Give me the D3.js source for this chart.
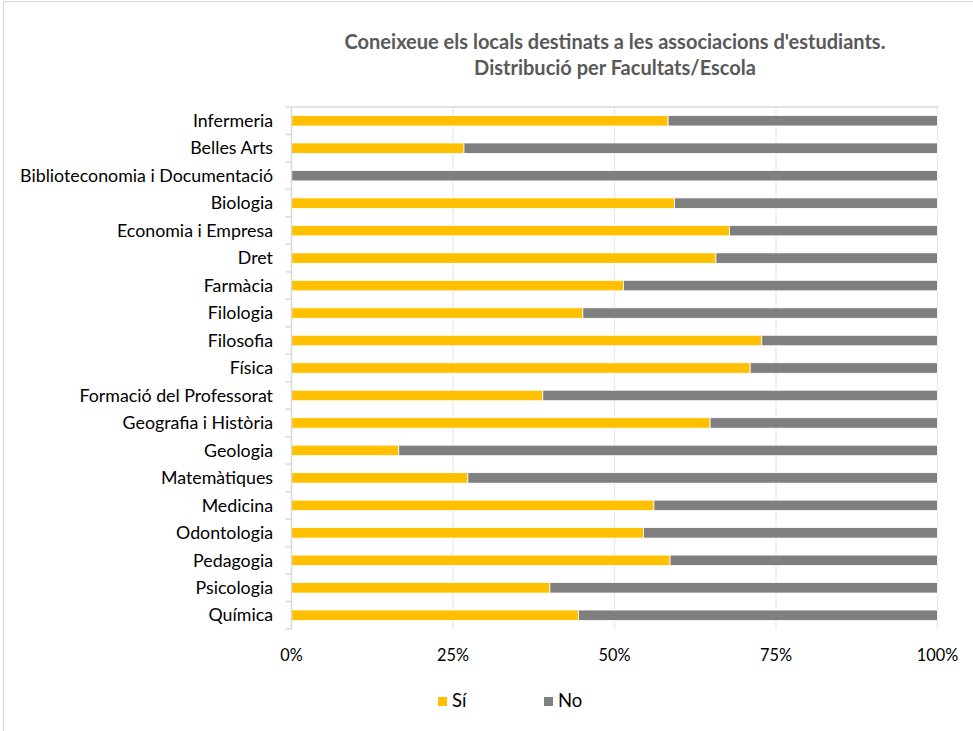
<!DOCTYPE html>
<html>
<head>
<meta charset="utf-8">
<script src="https://cdn.jsdelivr.net/npm/d3@7"></script>
<style>
  html, body { margin: 0; padding: 0; background: #fff; }
  svg { display: block; font-family: Lato, "Open Sans", sans-serif; }
</style>
</head>
<body>
<svg id="chart" width="973" height="731"></svg>
<script>
const categories = [
  "Infermeria", "Belles Arts", "Biblioteconomia i Documentació", "Biologia",
  "Economia i Empresa", "Dret", "Farmàcia", "Filologia", "Filosofia", "Física",
  "Formació del Professorat", "Geografia i Història", "Geologia", "Matemàtiques",
  "Medicina", "Odontologia", "Pedagogia", "Psicologia", "Química"
];
const siValues = [58.3, 26.7, 0, 59.3, 67.8, 65.7, 51.4, 45.1, 72.8, 71.0,
                  38.9, 64.8, 16.6, 27.3, 56.1, 54.5, 58.6, 40.0, 44.4];
const noValues = siValues.map(v => 100 - v);
const seriesNames = ["Sí", "No"];
const seriesColors = ["#FFC000", "#7F7F7F"];
const tickValues = [0, 25, 50, 75, 100];
const titleLines = ["Coneixeue els locals destinats a les associacions d'estudiants.",
                    "Distribució per Facultats/Escola"];

const svg = d3.select("#chart");
const plotLeft = 291.5, plotRight = 937.5, plotTop = 107, plotBottom = 629;

// outer chart border
svg.append("rect").attr("x", 3.5).attr("y", 1.5).attr("width", 1000).attr("height", 1000)
  .attr("fill", "none").attr("stroke", "#d9d9d9").attr("stroke-width", 1);

const x = d3.scaleLinear().domain([0, 100]).range([plotLeft, plotRight]);
const y = d3.scaleBand().domain(categories).range([plotTop, plotBottom])
  .paddingInner(0.618).paddingOuter(0.309);

// gridlines
svg.append("g").selectAll("line").data(tickValues.slice(1)).join("line")
  .attr("x1", d => x(d)).attr("x2", d => x(d))
  .attr("y1", plotTop).attr("y2", plotBottom)
  .attr("stroke", "#e9e9e9").attr("stroke-width", 1.3);

// top border line
svg.append("line").attr("x1", plotLeft).attr("x2", plotRight + 0.5).attr("y1", plotTop).attr("y2", plotTop)
  .attr("stroke", "#d9d9d9").attr("stroke-width", 1.5);

// stacked data
const rows = categories.map((c, i) => ({ cat: c, "Sí": siValues[i], "No": noValues[i] }));
const stack = d3.stack().keys(seriesNames)(rows);

svg.append("g").selectAll("g").data(stack).join("g")
  .attr("fill", (d, i) => seriesColors[i])
  .selectAll("rect").data(d => d.filter(p => p[1] - p[0] > 0)).join("rect")
  .attr("x", d => x(d[0]))
  .attr("width", d => x(d[1]) - x(d[0]))
  .attr("y", d => y(d.data.cat))
  .attr("height", y.bandwidth())
  .attr("stroke", "#fff").attr("stroke-width", 0.8);

// y axis line and ticks
const yAxis = svg.append("g");
yAxis.append("line").attr("x1", plotLeft).attr("x2", plotLeft).attr("y1", plotTop).attr("y2", plotBottom)
  .attr("stroke", "#d9d9d9").attr("stroke-width", 1.5);
const boundaries = d3.range(categories.length + 1).map(i => plotTop + i * y.step());
yAxis.selectAll("line.tick").data(boundaries).join("line").attr("class", "tick")
  .attr("x1", plotLeft - 6).attr("x2", plotLeft).attr("y1", d => d).attr("y2", d => d)
  .attr("stroke", "#d9d9d9").attr("stroke-width", 1.5);

// category labels
svg.append("g").selectAll("text").data(categories).join("text")
  .attr("x", 273).attr("y", d => y(d) + y.bandwidth() / 2)
  .attr("dy", "0.35em").attr("text-anchor", "end")
  .attr("font-size", 17.8).attr("fill", "#000")
  .text(d => d);

// x tick labels
svg.append("g").selectAll("text").data(tickValues).join("text")
  .attr("x", d => x(d)).attr("y", 661)
  .attr("text-anchor", "middle").attr("font-size", 16.3).attr("fill", "#000")
  .text(d => d + "%");

// title
svg.append("g").selectAll("text").data(titleLines).join("text")
  .attr("x", 615).attr("y", (d, i) => 49 + i * 26)
  .attr("text-anchor", "middle").attr("font-size", 20).attr("font-weight", "bold")
  .attr("fill", "#595959")
  .text(d => d);

// legend
const legendX = [438, 544];
const lg = svg.append("g").selectAll("g").data(seriesNames).join("g")
  .attr("transform", (d, i) => `translate(${legendX[i]},697)`);
lg.append("rect").attr("width", 9).attr("height", 9).attr("fill", (d, i) => seriesColors[i]);
lg.append("text").attr("x", 14).attr("y", 10).attr("font-size", 18.5).attr("fill", "#000")
  .text(d => d);
</script>
</body>
</html>
